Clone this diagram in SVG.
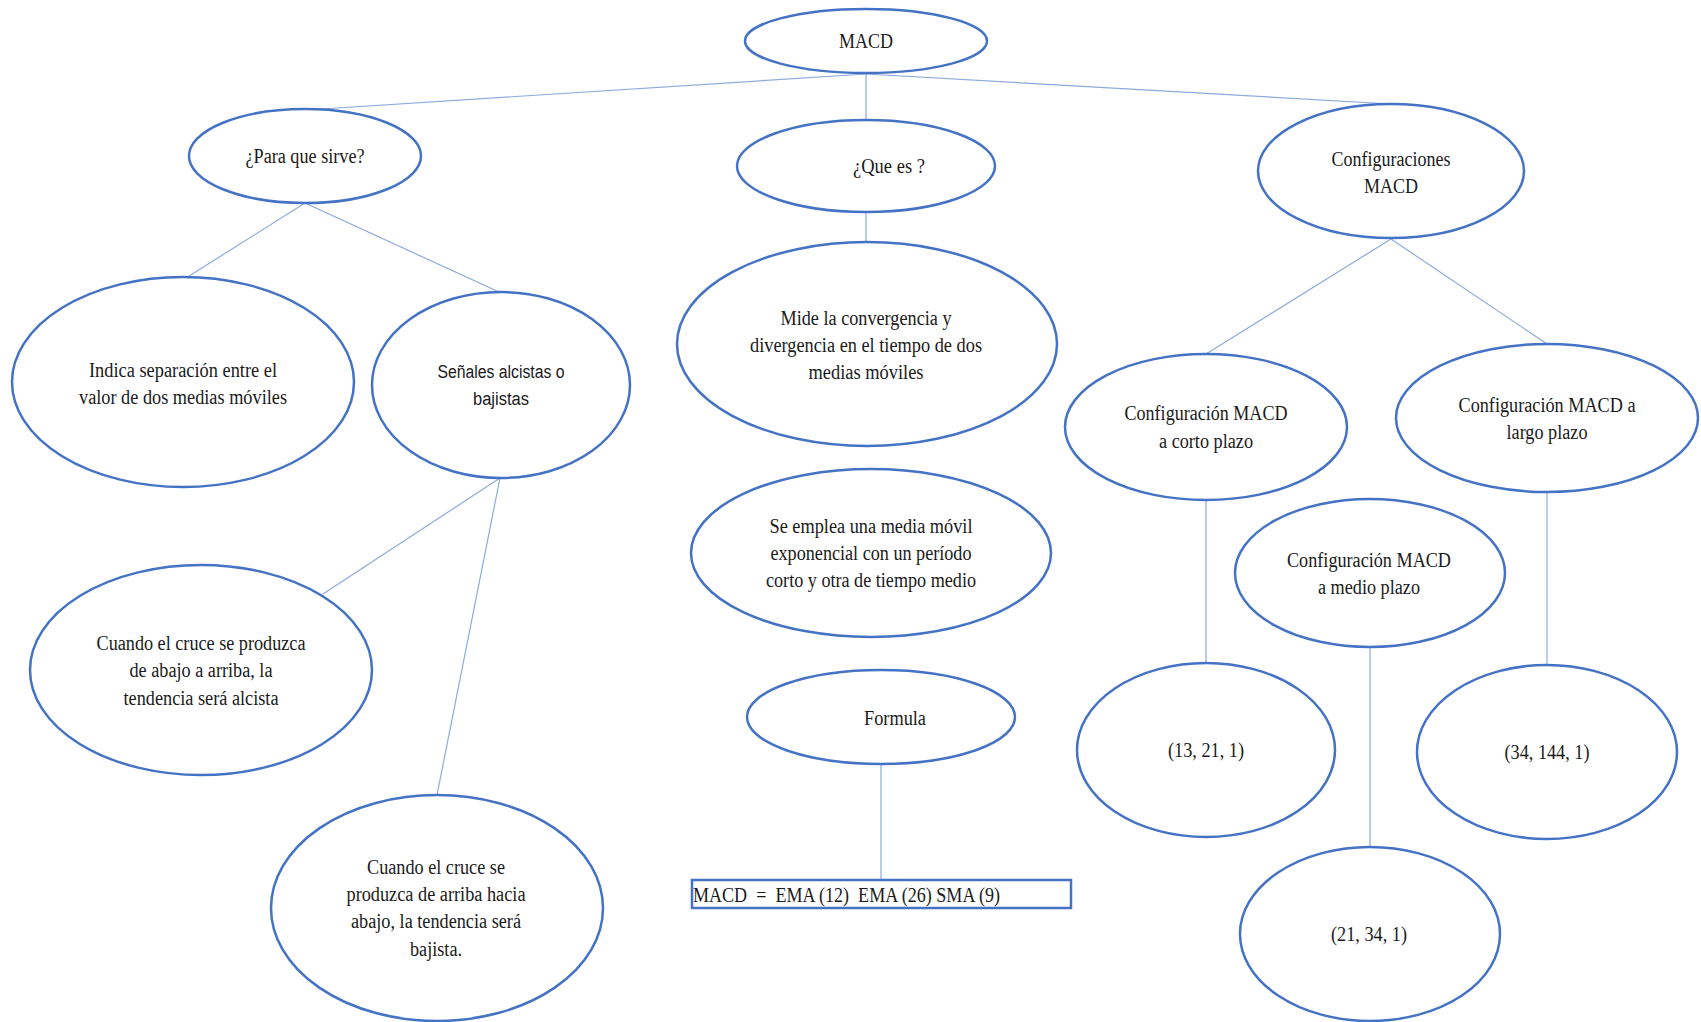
<svg xmlns="http://www.w3.org/2000/svg" width="1701" height="1022" viewBox="0 0 1701 1022">
<style>
.n ellipse{fill:#ffffff;stroke:#4472c4;stroke-width:2.5}
.n rect{fill:#ffffff;stroke:#4472c4;stroke-width:2.5}
.n text{font-family:"Liberation Serif","Times New Roman",serif;font-size:20px;fill:#1a1a1a;text-anchor:middle}
.n text.s{font-family:"Liberation Sans",Arial,sans-serif;font-size:18px}
.n text.f{font-family:"Liberation Serif","Times New Roman",serif;font-size:22px;text-anchor:start}
#connectors line{stroke:#8eaadc;stroke-width:1.2}
</style>
<rect width="1701" height="1022" fill="#ffffff"/>
<g id="connectors">
<line x1="866" y1="74" x2="306" y2="110"/>
<line x1="866" y1="74" x2="866" y2="120"/>
<line x1="866" y1="74" x2="1391" y2="104"/>
<line x1="305" y1="203" x2="186" y2="278"/>
<line x1="305" y1="203" x2="499" y2="292"/>
<line x1="866" y1="212" x2="866" y2="242"/>
<line x1="500" y1="478" x2="323" y2="594"/>
<line x1="500" y1="478" x2="437" y2="795"/>
<line x1="881" y1="764" x2="881" y2="880"/>
<line x1="1391" y1="239" x2="1206" y2="354"/>
<line x1="1391" y1="239" x2="1547" y2="344"/>
<line x1="1206" y1="500" x2="1206" y2="663"/>
<line x1="1370" y1="647" x2="1370" y2="847"/>
<line x1="1547" y1="491" x2="1547" y2="665"/>
</g>
<g id="macd" class="n"><ellipse cx="866" cy="41" rx="121" ry="32"/><text x="866" y="48" textLength="54" lengthAdjust="spacingAndGlyphs">MACD</text></g>
<g id="para-que-sirve" class="n"><ellipse cx="305" cy="156" rx="116" ry="47"/><text x="305" y="163" textLength="119" lengthAdjust="spacingAndGlyphs">¿Para que sirve?</text></g>
<g id="que-es" class="n"><ellipse cx="866" cy="166" rx="129" ry="46"/><text x="889" y="173" textLength="72" lengthAdjust="spacingAndGlyphs">¿Que es ?</text></g>
<g id="configuraciones" class="n"><ellipse cx="1391" cy="171" rx="133" ry="67"/><text x="1391" y="166" textLength="119" lengthAdjust="spacingAndGlyphs">Configuraciones</text><text x="1391" y="193" textLength="54" lengthAdjust="spacingAndGlyphs">MACD</text></g>
<g id="indica" class="n"><ellipse cx="183" cy="382" rx="171" ry="105"/><text x="183" y="377" textLength="188" lengthAdjust="spacingAndGlyphs">Indica separación entre el</text><text x="183" y="404" textLength="208" lengthAdjust="spacingAndGlyphs">valor de dos medias móviles</text></g>
<g id="senales" class="n"><ellipse cx="501" cy="385" rx="129" ry="93"/><text class="s" x="501" y="378" textLength="127" lengthAdjust="spacingAndGlyphs">Señales alcistas o</text><text class="s" x="501" y="405" textLength="56" lengthAdjust="spacingAndGlyphs">bajistas</text></g>
<g id="mide" class="n"><ellipse cx="867" cy="344" rx="190" ry="102"/><text x="866" y="325" textLength="171" lengthAdjust="spacingAndGlyphs">Mide la convergencia y</text><text x="866" y="352" textLength="232" lengthAdjust="spacingAndGlyphs">divergencia en el tiempo de dos</text><text x="866" y="379" textLength="115" lengthAdjust="spacingAndGlyphs">medias móviles</text></g>
<g id="se-emplea" class="n"><ellipse cx="871" cy="553" rx="180" ry="84"/><text x="871" y="533" textLength="203" lengthAdjust="spacingAndGlyphs">Se emplea una media móvil</text><text x="871" y="560" textLength="201" lengthAdjust="spacingAndGlyphs">exponencial con un período</text><text x="871" y="587" textLength="210" lengthAdjust="spacingAndGlyphs">corto y otra de tiempo medio</text></g>
<g id="formula" class="n"><ellipse cx="881" cy="717" rx="134" ry="47"/><text x="895" y="725" textLength="62" lengthAdjust="spacingAndGlyphs">Formula</text></g>
<g id="formula-box" class="n"><rect x="692" y="880" width="379" height="28"/><text class="f" x="693" y="902" textLength="307" lengthAdjust="spacingAndGlyphs" xml:space="preserve">MACD  =  EMA (12)  EMA (26) SMA (9)</text></g>
<g id="cuando-alcista" class="n"><ellipse cx="201" cy="670" rx="171" ry="105"/><text x="201" y="650" textLength="209" lengthAdjust="spacingAndGlyphs">Cuando el cruce se produzca</text><text x="201" y="677" textLength="143" lengthAdjust="spacingAndGlyphs">de abajo a arriba, la</text><text x="201" y="705" textLength="155" lengthAdjust="spacingAndGlyphs">tendencia será alcista</text></g>
<g id="cuando-bajista" class="n"><ellipse cx="437" cy="908" rx="166" ry="113"/><text x="436" y="874" textLength="138" lengthAdjust="spacingAndGlyphs">Cuando el cruce se</text><text x="436" y="901" textLength="179" lengthAdjust="spacingAndGlyphs">produzca de arriba hacia</text><text x="436" y="928" textLength="170" lengthAdjust="spacingAndGlyphs">abajo, la tendencia será</text><text x="436" y="956" textLength="52" lengthAdjust="spacingAndGlyphs">bajista.</text></g>
<g id="corto" class="n"><ellipse cx="1206" cy="427" rx="141" ry="73"/><text x="1206" y="420" textLength="163" lengthAdjust="spacingAndGlyphs">Configuración MACD</text><text x="1206" y="448" textLength="94" lengthAdjust="spacingAndGlyphs">a corto plazo</text></g>
<g id="largo" class="n"><ellipse cx="1547" cy="418" rx="151" ry="74"/><text x="1547" y="412" textLength="177" lengthAdjust="spacingAndGlyphs">Configuración MACD a</text><text x="1547" y="439" textLength="81" lengthAdjust="spacingAndGlyphs">largo plazo</text></g>
<g id="medio" class="n"><ellipse cx="1370" cy="573" rx="135" ry="74"/><text x="1369" y="567" textLength="164" lengthAdjust="spacingAndGlyphs">Configuración MACD</text><text x="1369" y="594" textLength="102" lengthAdjust="spacingAndGlyphs">a medio plazo</text></g>
<g id="v-13-21-1" class="n"><ellipse cx="1206" cy="750" rx="129" ry="87"/><text x="1206" y="757" textLength="76" lengthAdjust="spacingAndGlyphs">(13, 21, 1)</text></g>
<g id="v-34-144-1" class="n"><ellipse cx="1547" cy="752" rx="130" ry="87"/><text x="1547" y="759" textLength="85" lengthAdjust="spacingAndGlyphs">(34, 144, 1)</text></g>
<g id="v-21-34-1" class="n"><ellipse cx="1370" cy="934" rx="130" ry="87"/><text x="1369" y="941" textLength="76" lengthAdjust="spacingAndGlyphs">(21, 34, 1)</text></g>
</svg>
